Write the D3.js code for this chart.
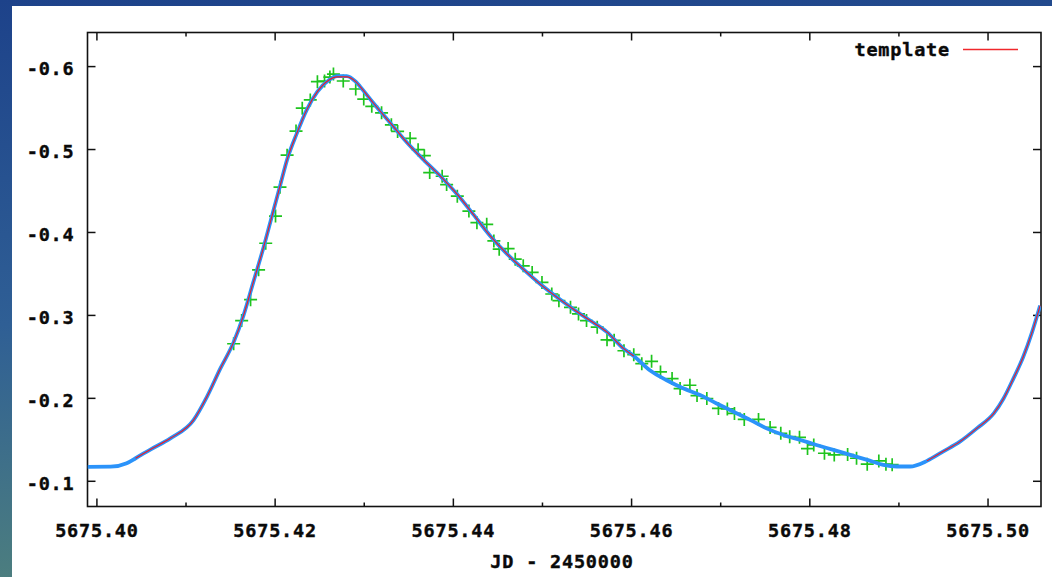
<!DOCTYPE html>
<html>
<head>
<meta charset="utf-8">
<script src="https://cdn.jsdelivr.net/npm/d3@7"></script>
<style>
    html, body { margin: 0; padding: 0; background: #fff; }
    svg { display: block; }
    .tick text, .lbl { font-family: 'DejaVu Sans Mono', 'Liberation Mono', monospace; font-weight: bold; font-size: 18.5px; letter-spacing: 0.8px; fill: #0a0a0a; stroke: #0a0a0a; stroke-width: 0.4px; }
</style>
</head>
<body>
<div class="container"></div>
<script>
// fitted light curve (blue), JD - 2450000 vs magnitude offset
const fitJD = [5675.3990, 5675.4016, 5675.4034, 5675.4044, 5675.4061, 5675.4083, 5675.4109, 5675.4124,
    5675.4139, 5675.4154, 5675.4165, 5675.4176, 5675.4188, 5675.4197, 5675.4206, 5675.4214, 5675.4225,
    5675.4236, 5675.4248, 5675.4261, 5675.4270, 5675.4281, 5675.4291, 5675.4296, 5675.4311, 5675.4330,
    5675.4349, 5675.4367, 5675.4386, 5675.4405, 5675.4423, 5675.4442, 5675.4461, 5675.4479, 5675.4498,
    5675.4517, 5675.4535, 5675.4554, 5675.4573, 5675.4591, 5675.4603, 5675.4621, 5675.4640, 5675.4659,
    5675.4678, 5675.4696, 5675.4715, 5675.4734, 5675.4752, 5675.4771, 5675.4790, 5675.4808, 5675.4827,
    5675.4846, 5675.4865, 5675.4883, 5675.4898, 5675.4913, 5675.4932, 5675.4950, 5675.4969, 5675.4988,
    5675.5007, 5675.5018, 5675.5029, 5675.5040, 5675.5050, 5675.5059];
const fitMag = [-0.1168, -0.1170, -0.1212, -0.1272, -0.1380, -0.1512, -0.1732, -0.2012,
    -0.2352, -0.2672, -0.2992, -0.3392, -0.3832, -0.4192, -0.4552, -0.4872, -0.5192,
    -0.5472, -0.5692, -0.5832, -0.5880, -0.5880, -0.5812, -0.5752, -0.5552, -0.5312,
    -0.5072, -0.4872, -0.4672, -0.4452, -0.4212, -0.3952, -0.3732, -0.3552, -0.3372,
    -0.3212, -0.3072, -0.2932, -0.2792, -0.2600, -0.2505, -0.2332, -0.2212, -0.2112,
    -0.2032, -0.1932, -0.1832, -0.1732, -0.1632, -0.1552, -0.1492, -0.1432, -0.1372,
    -0.1312, -0.1252, -0.1192, -0.1172, -0.1172, -0.1240, -0.1352, -0.1472, -0.1632,
    -0.1812, -0.1992, -0.2232, -0.2492, -0.2792, -0.3112];

// template (red) - only where it shows through the fit
const templateJD = [5675.4044, 5675.4061, 5675.4083, 5675.4109, 5675.4124, 5675.4139, 5675.4154, 5675.4165,
    5675.4176, 5675.4188, 5675.4197, 5675.4206, 5675.4214, 5675.4225, 5675.4236, 5675.4248, 5675.4261,
    5675.4270, 5675.4281, 5675.4291, 5675.4296, 5675.4311, 5675.4330, 5675.4349, 5675.4367, 5675.4386,
    5675.4405, 5675.4423, 5675.4442, 5675.4461, 5675.4479, 5675.4498, 5675.4517, 5675.4535, 5675.4554,
    5675.4573, 5675.4591, 5675.4603, null,
    5675.4932, 5675.4950, 5675.4969, 5675.4988, 5675.5007, 5675.5018, 5675.5029, 5675.5040, 5675.5050, 5675.5059];
const templateMag = [-0.1272, -0.1380, -0.1512, -0.1732, -0.2012, -0.2352, -0.2672, -0.2992,
    -0.3392, -0.3832, -0.4192, -0.4552, -0.4872, -0.5192, -0.5472, -0.5692, -0.5832,
    -0.5870, -0.5870, -0.5812, -0.5752, -0.5552, -0.5312, -0.5072, -0.4872, -0.4672,
    -0.4452, -0.4212, -0.3952, -0.3732, -0.3552, -0.3372, -0.3212, -0.3072, -0.2932,
    -0.2792, -0.2600, -0.2505, null,
    -0.1240, -0.1352, -0.1472, -0.1632, -0.1812, -0.1992, -0.2232, -0.2492, -0.2792, -0.3112];

// observations (green +)
const obsJD = [5675.4154, 5675.4163, 5675.4173, 5675.4182, 5675.4190, 5675.4201, 5675.4206, 5675.4214,
    5675.4224, 5675.4231, 5675.4240, 5675.4248, 5675.4256, 5675.4262, 5675.4266, 5675.4277, 5675.4291,
    5675.4300, 5675.4309, 5675.4320, 5675.4331, 5675.4338, 5675.4352, 5675.4361, 5675.4368, 5675.4374,
    5675.4388, 5675.4393, 5675.4405, 5675.4418, 5675.4427, 5675.4438, 5675.4446, 5675.4452, 5675.4462,
    5675.4470, 5675.4479, 5675.4489, 5675.4500, 5675.4511, 5675.4519, 5675.4532, 5675.4541, 5675.4550,
    5675.4562, 5675.4573, 5675.4581, 5675.4592, 5675.4603, 5675.4612, 5675.4623, 5675.4633, 5675.4646,
    5675.4655, 5675.4666, 5675.4674, 5675.4685, 5675.4698, 5675.4708, 5675.4716, 5675.4727, 5675.4743,
    5675.4756, 5675.4768, 5675.4778, 5675.4789, 5675.4798, 5675.4805, 5675.4817, 5675.4828, 5675.4843,
    5675.4853, 5675.4865, 5675.4878, 5675.4886, 5675.4893];
const obsMag = [-0.2652, -0.2932, -0.3184, -0.3544, -0.3864, -0.4192, -0.4540, -0.4926,
    -0.5216, -0.5492, -0.5592, -0.5812, -0.5820, -0.5868, -0.5904, -0.5820, -0.5724,
    -0.5602, -0.5515, -0.5436, -0.5292, -0.5212, -0.5128, -0.4992, -0.4920, -0.4716,
    -0.4672, -0.4572, -0.4432, -0.4252, -0.4112, -0.4092, -0.3892, -0.3792, -0.3800,
    -0.3672, -0.3592, -0.3512, -0.3392, -0.3252, -0.3172, -0.3092, -0.3012, -0.2932,
    -0.2852, -0.2700, -0.2694, -0.2568, -0.2520, -0.2412, -0.2440, -0.2312, -0.2232,
    -0.2112, -0.2152, -0.2028, -0.1992, -0.1872, -0.1866, -0.1812, -0.1740, -0.1740,
    -0.1644, -0.1572, -0.1532, -0.1524, -0.1388, -0.1432, -0.1332, -0.1312, -0.1316,
    -0.1272, -0.1200, -0.1240, -0.1200, -0.1194];

const xMajor = [5675.40, 5675.42, 5675.44, 5675.46, 5675.48, 5675.50];
const xMinor = [5675.41, 5675.43, 5675.45, 5675.47, 5675.49];
const yMajor = [-0.1, -0.2, -0.3, -0.4, -0.5, -0.6];

const width = 1052, height = 577;
const plotLeft = 87.5, plotRight = 1041, plotTop = 32.5, plotBottom = 506.5;

const svg = d3.select('.container')
    .append('svg')
    .attr('width', width)
    .attr('height', height);

// slide background peeking out at the edges
const defs = svg.append('defs');
const grad = defs.append('linearGradient')
    .attr('id', 'bg').attr('x1', 0).attr('y1', 0).attr('x2', 0.15).attr('y2', 1);
grad.append('stop').attr('offset', '0%').attr('stop-color', '#1d428a');
grad.append('stop').attr('offset', '55%').attr('stop-color', '#2f5f95');
grad.append('stop').attr('offset', '100%').attr('stop-color', '#4d7f7e');
svg.append('rect').attr('width', width).attr('height', height).attr('fill', 'url(#bg)');
svg.append('rect').attr('x', 12).attr('y', 6).attr('width', width - 12).attr('height', height - 6).attr('fill', '#fff');

defs.append('clipPath').attr('id', 'plot')
    .append('rect').attr('x', plotLeft).attr('y', plotTop)
    .attr('width', plotRight - plotLeft).attr('height', plotBottom - plotTop);

const x = d3.scaleLinear().domain([5675.3990, 5675.5060]).range([plotLeft, plotRight]);
const y = d3.scaleLinear().domain([-0.069, -0.6405]).range([plotBottom, plotTop]);

// ticks, gnuplot style (inward, mirrored)
function styleAxis(g) {
    g.select('.domain').remove();
    g.selectAll('.tick line').attr('stroke', '#111').attr('stroke-width', 1.5);
}

svg.append('g')
    .attr('transform', `translate(0,${plotBottom})`)
    .call(d3.axisBottom(x).tickValues(xMajor).tickSizeInner(-8).tickSizeOuter(0).tickPadding(17)
        .tickFormat(d => d.toFixed(2)))
    .call(styleAxis)
    .call(g => g.selectAll('text').attr('fill', null));
svg.append('g')
    .attr('transform', `translate(0,${plotBottom})`)
    .call(d3.axisBottom(x).tickValues(xMinor).tickSizeInner(-4).tickSizeOuter(0).tickFormat(''))
    .call(styleAxis);
svg.append('g')
    .attr('transform', `translate(0,${plotTop})`)
    .call(d3.axisTop(x).tickValues(xMajor).tickSizeInner(-8).tickSizeOuter(0).tickFormat(''))
    .call(styleAxis);
svg.append('g')
    .attr('transform', `translate(0,${plotTop})`)
    .call(d3.axisTop(x).tickValues(xMinor).tickSizeInner(-4).tickSizeOuter(0).tickFormat(''))
    .call(styleAxis);
svg.append('g')
    .attr('transform', `translate(${plotLeft},0)`)
    .call(d3.axisLeft(y).tickValues(yMajor).tickSizeInner(-8).tickSizeOuter(0).tickPadding(13)
        .tickFormat(d => d.toFixed(1)))
    .call(styleAxis)
    .call(g => g.selectAll('text').attr('fill', null).attr('dy', '0.45em'));
svg.append('g')
    .attr('transform', `translate(${plotRight},0)`)
    .call(d3.axisRight(y).tickValues(yMajor).tickSizeInner(-8).tickSizeOuter(0).tickFormat(''))
    .call(styleAxis);

// frame
svg.append('rect')
    .attr('x', plotLeft).attr('y', plotTop)
    .attr('width', plotRight - plotLeft).attr('height', plotBottom - plotTop)
    .attr('fill', 'none').attr('stroke', '#111').attr('stroke-width', 1.6);

const plot = svg.append('g').attr('clip-path', 'url(#plot)');

const line = d3.line()
    .defined(d => d[0] !== null && d[1] !== null)
    .curve(d3.curveMonotoneX)
    .x(d => x(d[0]))
    .y(d => y(d[1]));

// observations
plot.append('g')
    .attr('stroke', '#1ec41e')
    .attr('stroke-width', 1.7)
    .attr('fill', 'none')
    .selectAll('path')
    .data(d3.zip(obsJD, obsMag))
    .join('path')
    .attr('d', 'M-6.5,0H6.5M0,-6.5V6.5')
    .attr('transform', d => `translate(${x(d[0])},${y(d[1])})`);

// fit
plot.append('path')
    .datum(d3.zip(fitJD, fitMag))
    .attr('fill', 'none')
    .attr('stroke', '#2b93fa')
    .attr('stroke-width', 3.8)
    .attr('stroke-linejoin', 'round')
    .attr('d', line);

// template
plot.append('path')
    .datum(d3.zip(templateJD, templateMag))
    .attr('fill', 'none')
    .attr('stroke', '#ee1c24')
    .attr('stroke-width', 1.1)
    .attr('d', line);

// key
svg.append('text')
    .attr('class', 'lbl')
    .attr('x', 950).attr('y', 56)
    .attr('text-anchor', 'end')
    .text('template');
svg.append('line')
    .attr('x1', 963).attr('x2', 1018).attr('y1', 49.5).attr('y2', 49.5)
    .attr('stroke', '#f0282c').attr('stroke-width', 1.3);

// x axis title
svg.append('text')
    .attr('class', 'lbl')
    .attr('x', 562).attr('y', 568)
    .attr('text-anchor', 'middle')
    .text('JD - 2450000');
</script>
</body>
</html>
